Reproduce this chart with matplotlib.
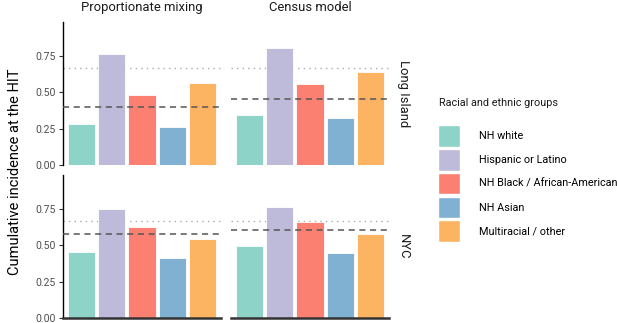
import numpy as np
import matplotlib.pyplot as plt
from matplotlib.patches import Patch

plt.rcParams['font.family'] = ['Roboto', 'DejaVu Sans']

groups = ['NH white', 'Hispanic or Latino', 'NH Black / African-American', 'NH Asian', 'Multiracial / other']
colors = ['#8DD3C7', '#BEBADA', '#FB8072', '#80B1D3', '#FDB462']
models = ['Proportionate mixing', 'Census model']
regions = ['Long Island', 'NYC']

# cumulative incidence at HIT, per region / model
li_prop = [0.282, 0.764, 0.482, 0.264, 0.566]
li_census = [0.344, 0.807, 0.557, 0.321, 0.640]
nyc_prop = [0.456, 0.748, 0.627, 0.410, 0.544]
nyc_census = [0.493, 0.764, 0.662, 0.444, 0.581]
values = [[li_prop, li_census], [nyc_prop, nyc_census]]

# dashed: overall incidence at HIT, dotted: HIT
overall = [[0.399, 0.454], [0.576, 0.604]]
hit = 0.667

fig = plt.figure(figsize=(6.17, 3.23), dpi=100)
W, H = 617, 323
lefts = [63, 231]
tops = [22, 175]
pw, ph = 158, 143

x = np.arange(len(groups))
for r in range(2):
    for m in range(2):
        ax = fig.add_axes([lefts[m] / W, 1 - (tops[r] + ph) / H, pw / W, ph / H])
        ax.bar(x, values[r][m], width=0.9, color=colors, edgecolor='white', linewidth=0.6, zorder=2)
        ax.axhline(overall[r][m], color='#555555', lw=1.1, ls=(0, (4, 3)), zorder=3)
        ax.axhline(hit, color='#aaaaaa', lw=1.0, ls=(0, (1, 3)), zorder=1)
        ax.set_xlim(-0.6, 4.6)
        ax.set_ylim(0, 0.984)
        for s in ['top', 'right']:
            ax.spines[s].set_visible(False)
        ax.set_xticks([])
        if m == 0:
            ax.spines['left'].set_color('black')
            ax.spines['left'].set_linewidth(1.0)
            ax.set_yticks([0, 0.25, 0.5, 0.75])
            ax.set_yticklabels(['0.00', '0.25', '0.50', '0.75'])
            ax.tick_params(axis='y', length=3, width=0.8, color='#333333', labelcolor='#4d4d4d',
                           labelsize=7.5, pad=2)
        else:
            ax.spines['left'].set_visible(False)
            ax.set_yticks([])
        if r == 1:
            ax.spines['bottom'].set_color('#333333')
            ax.spines['bottom'].set_linewidth(1.8)
        else:
            ax.spines['bottom'].set_visible(False)
        if r == 0:
            ax.set_title(models[m], fontsize=9.4, color='#1a1a1a', pad=8)
        if m == 1:
            ax.text(1.05, 0.5, regions[r], transform=ax.transAxes, rotation=-90,
                    ha='left', va='center', fontsize=9.4, color='#1a1a1a')

fig.text(8 / W, 1 - 172 / H, 'Cumulative incidence at the HIT', rotation=90,
         ha='left', va='center', fontsize=10.5, color='black')

fig.text(439 / W, 1 - 103 / H, 'Racial and ethnic groups', ha='left', va='center',
         fontsize=7.8, color='#1a1a1a')
handles = [Patch(facecolor=c, edgecolor='white') for c in colors]
leg = fig.legend(handles, groups, loc='upper left', bbox_to_anchor=(438 / W, 1 - 125 / H),
                 frameon=False, fontsize=7.8, handlelength=2.0, handleheight=2.7,
                 labelspacing=0.2, handletextpad=1.8, borderaxespad=0, borderpad=0)

fig.savefig('out.png', dpi=100)
